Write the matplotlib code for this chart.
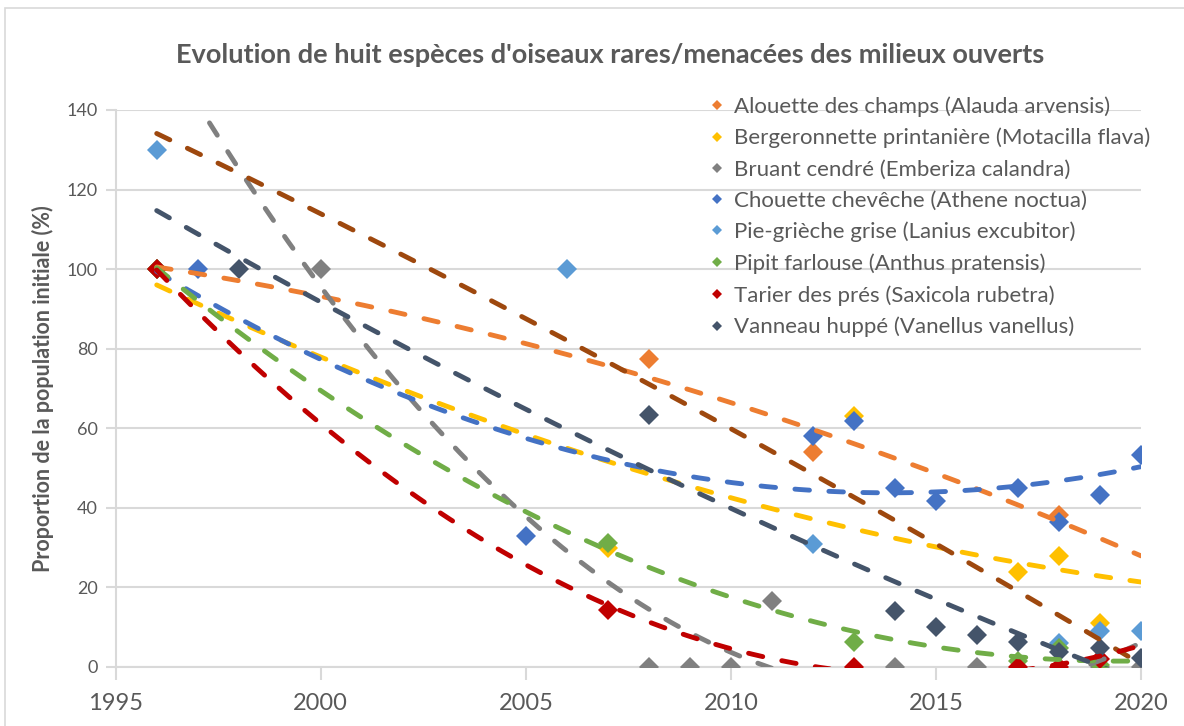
import matplotlib
matplotlib.use("Agg")
import matplotlib.pyplot as plt
import numpy as np
from matplotlib.patches import Rectangle

plt.rcParams['font.family'] = ['Lato', 'DejaVu Sans']

# years and values (% of initial population)
alouette_x = [1996, 2008, 2012, 2018]
alouette_y = [100, 77.3, 53.9, 38.2]

bergeronnette_x = [1996, 2007, 2013, 2017, 2018, 2019]
bergeronnette_y = [100, 29.9, 63, 23.7, 27.9, 11.1]

bruant_x = [2000, 2008, 2009, 2010, 2011, 2014, 2016, 2019, 2020]
bruant_y = [100, 0, 0, 0, 16.4, 0, 0, 0, 0]

chouette_x = [1996, 1997, 2005, 2012, 2013, 2014, 2015, 2017, 2018, 2019, 2020]
chouette_y = [100, 100, 32.9, 57.9, 61.7, 44.9, 41.6, 44.9, 36.5, 43.2, 53.3]

pie_x = [1996, 2006, 2012, 2018, 2019, 2020]
pie_y = [130, 100, 30.8, 6, 9.1, 9.1]

pipit_x = [1996, 2007, 2013, 2017, 2018, 2019]
pipit_y = [100, 31.1, 6.3, 1.5, 4.8, 0.5]

tarier_x = [1996, 2007, 2013, 2017, 2018, 2019]
tarier_y = [100, 14.3, 0, 0, 0, 2]

vanneau_x = [1998, 2008, 2014, 2015, 2016, 2017, 2018, 2019, 2020]
vanneau_y = [100, 63.4, 14, 10.1, 8, 6.3, 3.8, 4.6, 2.1]

labels = ["Alouette des champs (Alauda arvensis)",
          "Bergeronnette printanière (Motacilla flava)",
          "Bruant cendré (Emberiza calandra)",
          "Chouette chevêche (Athene noctua)",
          "Pie-grièche grise (Lanius excubitor)",
          "Pipit farlouse (Anthus pratensis)",
          "Tarier des prés (Saxicola rubetra)",
          "Vanneau huppé (Vanellus vanellus)"]

series = [(alouette_x, alouette_y), (bergeronnette_x, bergeronnette_y),
          (bruant_x, bruant_y), (chouette_x, chouette_y), (pie_x, pie_y),
          (pipit_x, pipit_y), (tarier_x, tarier_y), (vanneau_x, vanneau_y)]

colors = ['#ED7D31', '#FFC000', '#808080', '#4472C4', '#5B9BD5', '#70AD47', '#C00000', '#44546A']
trend_colors = ['#ED7D31', '#FFC000', '#808080', '#4472C4', '#9E480E', '#70AD47', '#C00000', '#44546A']

txt = '#595959'
grid = '#D9D9D9'

fig = plt.figure(figsize=(11.84, 7.26), dpi=100)
ax = fig.add_axes([115.7/1184, 1-666.7/726, (1141-115.7)/1184, (666.7-110)/726])

# chart border
fig.patches.append(Rectangle((5/1184, -0.1), 1.2, 1-8/726+0.1, transform=fig.transFigure,
                             fill=False, edgecolor='#D9D9D9', lw=1.2))

handles = []
for (x, y), c in zip(series, colors):
    h, = ax.plot(x, y, 'D', ms=10, color=c, mew=0, zorder=3, clip_on=True)
    handles.append(h)

# polynomial (order 2) trendlines, as in the spreadsheet
xt = np.linspace(1996, 2020, 300)
for (x, y), c in zip(series, trend_colors):
    p = np.polyfit(x, y, 2)
    ax.plot(xt, np.polyval(p, xt), color=c, lw=3.5, ls=(0, (3, 4)),
            dash_capstyle='round', zorder=4)

ax.set_xlim(1995, 2020)
ax.set_ylim(0, 140)
ax.set_xticks(range(1995, 2021, 5))
ax.set_yticks(range(0, 141, 20))
ax.grid(axis='y', color=grid, lw=1.5)
ax.set_axisbelow(True)
for s in ['top', 'right']:
    ax.spines[s].set_visible(False)
for s in ['left', 'bottom']:
    ax.spines[s].set_color(grid)
    ax.spines[s].set_linewidth(1.5)
ax.tick_params(axis='y', colors=grid, length=7, width=1.5, labelsize=13, labelcolor=txt, pad=6)
ax.tick_params(axis='x', colors=grid, length=9, width=1.5, labelsize=17, labelcolor=txt, pad=10)

ax.set_ylabel("Proportion de la population initiale (%)", fontsize=15.5, fontweight='bold',
              color=txt, labelpad=9)
fig.suptitle("Evolution de huit espèces d'oiseaux rares/menacées des milieux ouverts",
             x=0.515, y=1-55/726, va='center', fontsize=19.5, fontweight='bold', color=txt)

fig.legend(handles, labels, loc='upper left', bbox_to_anchor=(710/1184, 1-96/726),
           frameon=False, fontsize=16, markerscale=0.55, handlelength=0.6,
           handletextpad=0.5, labelspacing=0.5, borderaxespad=0, borderpad=0,
           labelcolor=txt)

fig.savefig('out.png', dpi=100)
